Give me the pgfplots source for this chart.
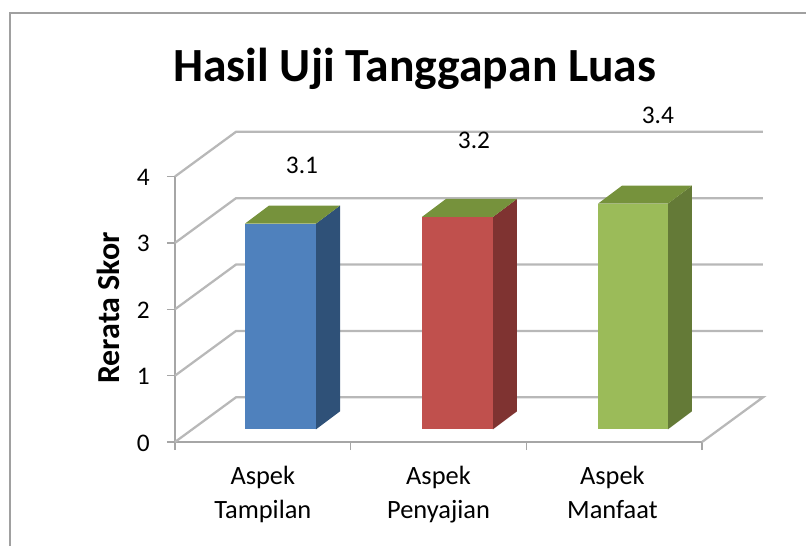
\documentclass[border=0pt]{standalone}
\usepackage{pgfplots}
\pgfplotsset{compat=1.18}
\usepackage{fontspec}
\setmainfont{Carlito}
\definecolor{gridc}{HTML}{B8B8B8}
\definecolor{axisc}{HTML}{A6A6A6}
\definecolor{framec}{HTML}{A0A0A0}
\definecolor{topc}{HTML}{76923C}
\definecolor{bluef}{HTML}{4F81BD}
\definecolor{blues}{HTML}{2F5178}
\definecolor{redf}{HTML}{C0504D}
\definecolor{reds}{HTML}{7F3331}
\definecolor{greenf}{HTML}{9BBB59}
\definecolor{greens}{HTML}{647A37}
\begin{document}
\begin{tikzpicture}
\useasboundingbox (-131.25pt,-78pt) rectangle (473.25pt,331.5pt);
\draw[framec,line width=1.1pt] (-123.75pt,-78pt) -- (-123.75pt,321.75pt) -- (473.25pt,321.75pt);
\begin{axis}[
  at={(0pt,0pt)}, anchor=origin,
  scale only axis, width=395.25pt, height=199.125pt,
  xmin=0, xmax=3, ymin=0, ymax=4,
  clip=false,
  axis lines*=left,
  axis line style={-,axisc,line width=1.3pt},
  tick align=outside,
  major tick length=6pt,
  tick style={axisc,line width=1pt},
  xtick={0,1,2,3}, xticklabels={,,,},
  extra x ticks={0.5,1.5,2.49},
  extra x tick labels={Aspek\\Tampilan,Aspek\\Penyajian,Aspek\\Manfaat},
  extra x tick style={major tick length=0pt,tick style={draw=none}},
  xticklabel style={align=center,font=\fontsize{19.8}{25.5}\selectfont,yshift=-14.5pt},
  ytick={0,1,2,3,4},
  yticklabel style={font=\fontsize{19}{22}\selectfont,xshift=-9.5pt,yshift=-0.7pt},
  /pgf/number format/assume math mode=true,
  ylabel={\bfseries Rerata Skor},
  ylabel style={at={(axis description cs:-0.127,0.505)},anchor=center,font=\fontsize{24}{28}\selectfont},
  title={\bfseries Hasil Uji Tanggapan Luas},
  title style={at={(axis description cs:0.455,1.375)},anchor=center,font=\fontsize{35.7}{42}\selectfont},
]
% back-plane grid
\addplot[gridc,line width=1.7pt] coordinates {(0,0)(0.347,0.673)(3.347,0.673)(3,0)};
\addplot[gridc,line width=1.7pt] coordinates {(0,1)(0.347,1.673)(3.347,1.673)};
\addplot[gridc,line width=1.7pt] coordinates {(0,2)(0.347,2.673)(3.347,2.673)};
\addplot[gridc,line width=1.7pt] coordinates {(0,3)(0.347,3.673)(3.347,3.673)};
\addplot[gridc,line width=1.7pt] coordinates {(0,4)(0.347,4.673)(3.347,4.673)};
% Aspek Tampilan
\addplot[fill=blues,draw=none,yshift=9.5pt] coordinates {(0.8026,0)(0.9393,0.271)(0.9393,3.371)(0.8026,3.1)} --cycle;
\addplot[fill=topc,draw=none,yshift=9.5pt] coordinates {(0.3985,3.1)(0.5352,3.371)(0.9393,3.371)(0.8026,3.1)} --cycle;
\addplot[ybar,bar width=53.25pt,bar shift=0pt,fill=bluef,draw=none,yshift=9.5pt] coordinates {(0.6005,3.1)};
% Aspek Penyajian
\addplot[fill=reds,draw=none,yshift=9.5pt] coordinates {(1.810,0)(1.9466,0.271)(1.9466,3.471)(1.810,3.2)} --cycle;
\addplot[fill=topc,draw=none,yshift=9.5pt] coordinates {(1.406,3.2)(1.5426,3.471)(1.9466,3.471)(1.810,3.2)} --cycle;
\addplot[ybar,bar width=53.25pt,bar shift=0pt,fill=redf,draw=none,yshift=9.5pt] coordinates {(1.608,3.2)};
% Aspek Manfaat
\addplot[fill=greens,draw=none,yshift=9.5pt] coordinates {(2.806,0)(2.9426,0.271)(2.9426,3.671)(2.806,3.4)} --cycle;
\addplot[fill=topc,draw=none,yshift=9.5pt] coordinates {(2.408,3.4)(2.5446,3.671)(2.9426,3.671)(2.806,3.4)} --cycle;
\addplot[ybar,bar width=52.5pt,bar shift=0pt,fill=greenf,draw=none,yshift=9.5pt] coordinates {(2.607,3.4)};
% value labels
\node[font=\fontsize{19}{22}\selectfont] at (axis cs:0.723,4.172) {3.1};
\node[font=\fontsize{19}{22}\selectfont] at (axis cs:1.702,4.548) {3.2};
\node[font=\fontsize{19}{22}\selectfont] at (axis cs:2.749,4.925) {3.4};
\end{axis}
\end{tikzpicture}
\end{document}
